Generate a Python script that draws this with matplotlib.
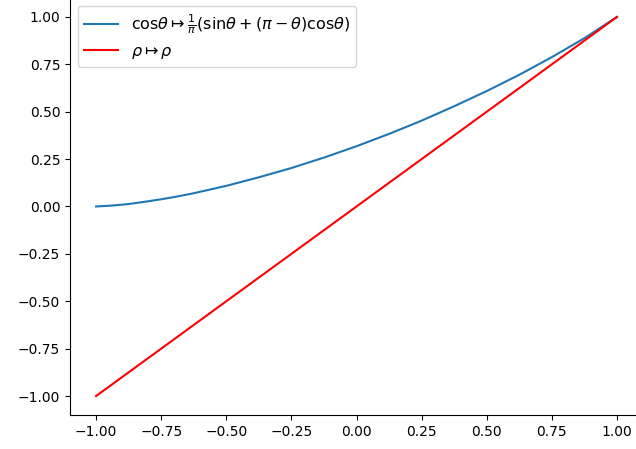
import matplotlib
matplotlib.use("Agg")
import matplotlib.pyplot as plt

# Values
rho = [-1.0, -0.9375, -0.875, -0.8125, -0.75, -0.6875, -0.625, -0.5, -0.375,
       -0.25, -0.125, 0.0, 0.125, 0.25, 0.375, 0.5, 0.625, 0.75, 0.875, 1.0]
kernel = [0.0, 0.005, 0.013, 0.025, 0.038, 0.053, 0.070, 0.109, 0.154,
          0.203, 0.258, 0.318, 0.383, 0.453, 0.529, 0.609, 0.695, 0.788,
          0.888, 1.0]
identity = [-1.0, 1.0]
identity_x = [-1.0, 1.0]

label_kernel = r"$\mathrm{cos}\theta \mapsto \frac{1}{\pi}(\mathrm{sin}\theta + (\pi - \theta)\mathrm{cos}\theta)$"
label_id = r"$\rho \mapsto \rho$"

fig = plt.figure(figsize=(6.36, 4.49), dpi=100)
ax = fig.add_axes([70 / 636, 34 / 449, 573 / 636, 417 / 449])
ax.plot(rho, kernel, color="#1f77b4", label=label_kernel)
ax.plot(identity_x, identity, color="red", label=label_id)
ax.set_xticks([-1.0, -0.75, -0.5, -0.25, 0.0, 0.25, 0.5, 0.75, 1.0])
ax.set_yticks([-1.0, -0.75, -0.5, -0.25, 0.0, 0.25, 0.5, 0.75, 1.0])
ax.spines["top"].set_visible(False)
ax.spines["right"].set_visible(False)
ax.legend(loc="upper left", fontsize=11.5, handlelength=2.1)
fig.savefig("out.png", dpi=100)
